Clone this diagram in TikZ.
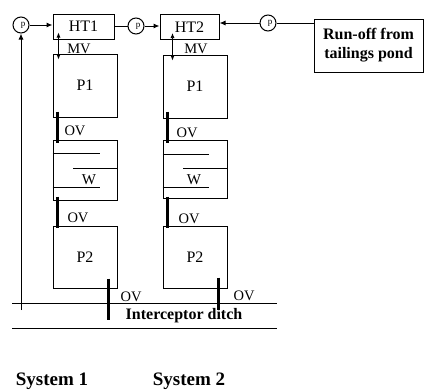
\documentclass[tikz,border=0pt]{standalone}
\usepackage{fontspec}
\setmainfont{Liberation Serif}
\usetikzlibrary{arrows.meta,positioning,calc}

\tikzset{
  tank/.style={draw, minimum width=64pt, minimum height=63pt, inner sep=0pt, font=\fontsize{16}{16}\selectfont},
  headtank/.style={draw, minimum height=25pt, inner sep=0pt, font=\fontsize{16}{16}\selectfont},
  pumpc/.style={draw, circle, minimum size=16pt, inner sep=0pt, font=\fontsize{9}{9}\selectfont},
  valvebar/.style={line width=3pt},
  flow/.style={-{Latex[length=6pt,width=5pt]}},
  tag/.style={inner sep=0pt, font=\fontsize{14.5}{14.5}\selectfont},
  boldtxt/.style={inner sep=0pt, font=\fontsize{16}{19}\selectfont\bfseries},
}

\begin{document}
\begin{tikzpicture}[x=1pt,y=-1pt,line width=1pt]
    \useasboundingbox (0,0) rectangle (427,391);

    % feed line
    \node[pumpc] (pump1) at (21,25) {\hspace*{4pt}p};
    \node[headtank, minimum width=61pt] (ht1) at (83.5,26.5) {HT1};
    \node[pumpc] (pump2) at (136,26) {\hspace*{4pt}p};
    \node[headtank, minimum width=59pt] (ht2) at (189.5,27) {HT2};
    \node[pumpc] (pump3) at (268,23) {\hspace*{4pt}p};
    \node[draw, boldtxt, align=center, minimum width=109pt, minimum height=53pt] (runoff) at (368.5,45.5) {Run-off from\\tailings pond};

    \draw[flow] (pump1) -- (pump1 -| ht1.west);
    \draw (ht1.east |- pump2) -- (pump2);
    \draw[flow] (pump2) -- (pump2 -| ht2.west);
    \draw (runoff.west |- pump3) -- (pump3);
    \draw[flow] (pump3) -- (pump3 -| ht2.east);
    \coordinate (ret) at (21,310);
    \draw[flow] (ret) -- (pump1);

    % system 1
    \node[tank] (pa1) at (85,85.5) {P1};
    \node[tank, minimum height=60pt] (wa) at (85,170) {};
    \node[tank, minimum height=62pt] (pb1) at (85,257) {P2};
    \draw ([yshift=-14pt]wa.north west) -- ++(47,0);
    \draw ([yshift=-29pt]wa.north east) -- ++(-45,0);
    \draw ([yshift=-48pt]wa.north west) -- ++(47,0);
    \node[inner sep=0pt, font=\fontsize{15}{15}\selectfont] (wlbl1) at (89,180) {W};

    \draw[{Latex[length=5pt,width=4pt]}-{Latex[length=5pt,width=4pt]}, line width=0.7pt] ([xshift=6pt,yshift=7pt]ht1.south west) -- ([xshift=6pt,yshift=-6pt]pa1.north west);
    \node[tag] (mv1) at (79,49) {MV};
    \draw[valvebar] ([xshift=5pt,yshift=6pt]pa1.south west) -- ([xshift=5pt,yshift=-3pt]wa.north west);
    \node[tag] (ova1) at (75,131) {OV};
    \draw[valvebar] ([xshift=5pt,yshift=4pt]wa.south west) -- ([xshift=5pt,yshift=-2pt]pb1.north west);
    \node[tag] (ovb1) at (78,218) {OV};
    \draw[valvebar] ([xshift=-9pt,yshift=10pt]pb1.south east) -- ([xshift=-9pt,yshift=-31pt]pb1.south east);
    \node[tag] (ovc1) at (131,297) {OV};

    % system 2
    \node[tank] (pa2) at (195,86.5) {P1};
    \node[tank, minimum height=58pt] (wb) at (195,169) {};
    \node[tank, minimum height=62pt] (pb2) at (195,257) {P2};
    \draw ([yshift=-15pt]wb.north west) -- ++(46,0);
    \draw ([yshift=-29pt]wb.north east) -- ++(-45,0);
    \draw ([yshift=-48pt]wb.north west) -- ++(46,0);
    \node[inner sep=0pt, font=\fontsize{15}{15}\selectfont] (wlbl2) at (194,180) {W};

    \draw[{Latex[length=5pt,width=4pt]}-{Latex[length=5pt,width=4pt]}, line width=0.7pt] ([xshift=13pt,yshift=7pt]ht2.south west) -- ([xshift=10pt,yshift=-6pt]pa2.north west);
    \node[tag] (mv2) at (196,49) {MV};
    \draw[valvebar] ([xshift=5pt,yshift=7pt]pa2.south west) -- ([xshift=5pt,yshift=-3pt]wb.north west);
    \node[tag] (ova2) at (187,133) {OV};
    \draw[valvebar] ([xshift=5pt,yshift=2pt]wb.south west) -- ([xshift=5pt,yshift=-2pt]pb2.north west);
    \node[tag] (ovb2) at (189,219) {OV};
    \draw[valvebar] ([xshift=-9pt,yshift=11pt]pb2.south east) -- ([xshift=-9pt,yshift=-21pt]pb2.south east);
    \node[tag] (ovc2) at (244,296) {OV};

    % interceptor ditch
    \coordinate (ditchA) at (12,303);
    \coordinate (ditchB) at (277,303);
    \coordinate (ditchC) at (12,328);
    \coordinate (ditchD) at (277,328);
    \draw (ditchA) -- (ditchB);
    \draw (ditchC) -- (ditchD);
    \node[boldtxt] (ditch) at (184,316) {Interceptor ditch};

    \node[boldtxt, font=\fontsize{19}{19}\selectfont\bfseries] (sys1) at (52,381) {System 1};
    \node[boldtxt, font=\fontsize{19}{19}\selectfont\bfseries] (sys2) at (189,381) {System 2};
\end{tikzpicture}
\end{document}
